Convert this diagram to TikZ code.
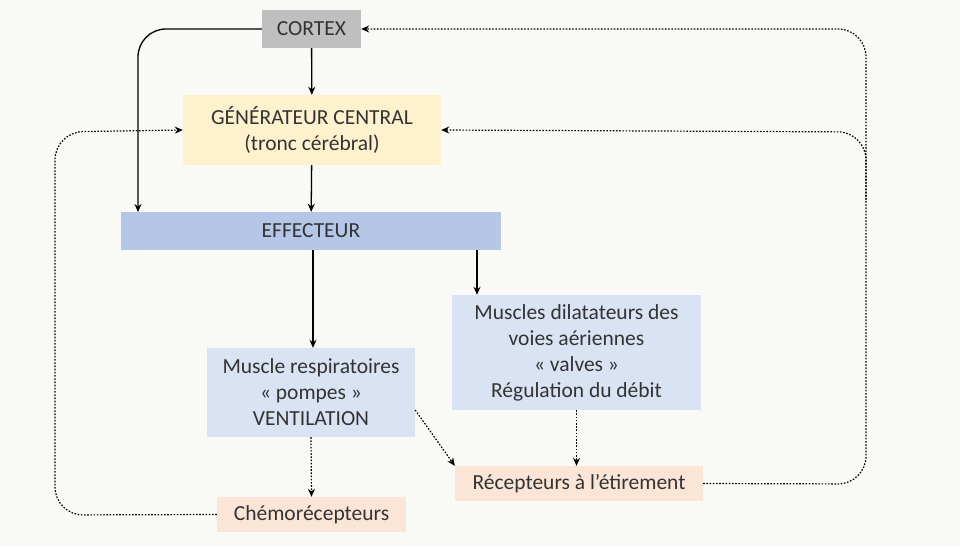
\documentclass[tikz,border=0pt]{standalone}
\usepackage{fontspec}
\setmainfont{Carlito}
\usetikzlibrary{arrows.meta}
\definecolor{bg}{HTML}{F9F9F6}
\definecolor{grayb}{HTML}{BFBFBF}
\definecolor{yel}{HTML}{FEF1CD}
\definecolor{blu}{HTML}{B4C7E7}
\definecolor{lblu}{HTML}{DAE3F3}
\definecolor{pch}{HTML}{FBE5D6}
\begin{document}
\begin{tikzpicture}[x=1pt,y=-1pt,
  box/.style={inner sep=0pt,align=center,font=\fontsize{21.5}{26}\selectfont,text=black!80},
  arr/.style={-{Stealth[length=8pt,width=7pt]},line width=1.3pt},
  dsh/.style={-{Stealth[length=8pt,width=7pt]},line width=1.2pt,dash pattern=on 1.6pt off 1.6pt},
  rc/.style={rounded corners=28pt}]
\fill[bg] (0,0) rectangle (960,546);
\node[box,fill=grayb,minimum width=99,minimum height=38] (cx) at (311.5,29) {CORTEX};
\node[box,fill=yel,minimum width=258,minimum height=70] (gc) at (312,130) {GÉNÉRATEUR CENTRAL\\(tronc cérébral)};
\node[box,fill=blu,minimum width=380,minimum height=38] (ef) at (311,231) {EFFECTEUR};
\node[box,fill=lblu,minimum width=208,minimum height=89] (mr) at (311,392.5) {Muscle respiratoires\\« pompes »\\VENTILATION};
\node[box,fill=lblu,minimum width=249,minimum height=115] (md) at (576.5,352.5) {Muscles dilatateurs des\\voies aériennes\\« valves »\\Régulation du débit};
\node[box,fill=pch,minimum width=248,minimum height=35] (re) at (579,483.5) {Récepteurs à l’étirement};
\node[box,fill=pch,minimum width=189,minimum height=35] (ch) at (311.5,514.5) {Chémorécepteurs};
\coordinate (efl) at (138,212);
\draw[arr] (cx) -- (gc);
\draw[arr] (gc) -- (ef);
\draw[arr,rc] (cx.west) -- (138,29) -- (efl);
\draw[arr] (ef.south -| 313,0) -- (mr.north -| 313,0);
\draw[arr] (477,250) -- (md.north -| 477,0);
\draw[dsh] (mr.south) -- (ch.north);
\draw[dsh] (md.south) -- (re.north -| md.south);
\draw[dsh] (mr.east |- 0,410) -- (re.north west);
\draw[dsh,rc] (ch.west) -- (55,515) -- (55,132) -- (gc.west);
\draw[dsh,rc] (re.east) -- (866,484) -- (866,132) -- (gc.east);
\draw[dsh,rc] (866,200) -- (866,29) -- (cx.east);
\end{tikzpicture}
\end{document}
